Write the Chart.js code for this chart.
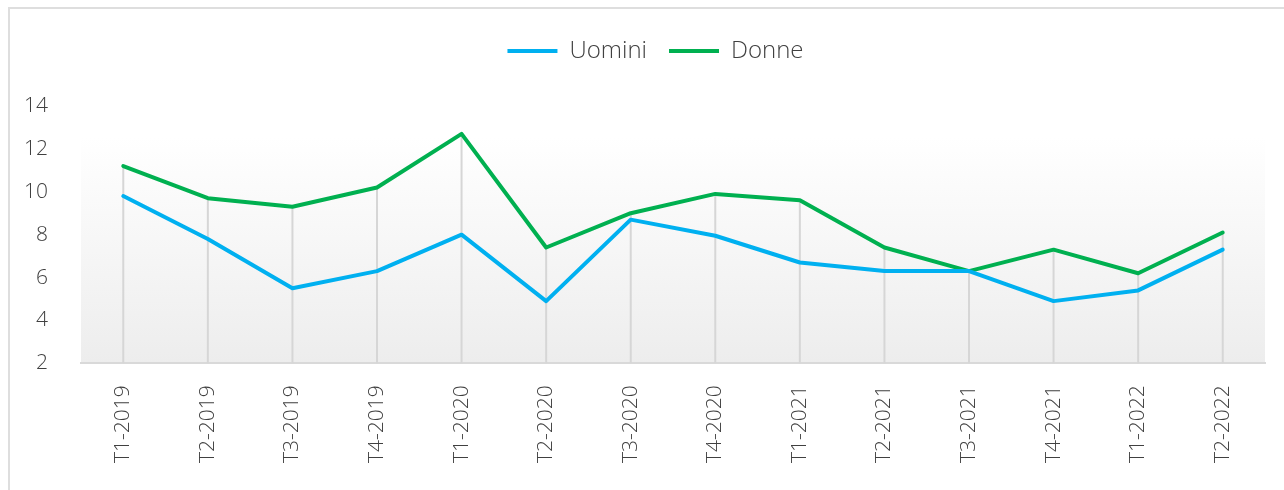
<!DOCTYPE html>
<html lang="it">
<head>
<meta charset="utf-8">
<title>Uomini e Donne</title>
<script src="https://cdn.jsdelivr.net/npm/chart.js@4/dist/chart.umd.min.js"></script>
<style>
  html, body { margin: 0; padding: 0; background: #ffffff; overflow: hidden; }
  #frame {
    position: absolute; left: 8px; top: 7px; width: 1400px; height: 600px;
    border-left: 2px solid #dedede; border-top: 2px solid #dedede;
  }
  #wrap { position: absolute; left: 0; top: 0; width: 1284px; height: 490px; }
</style>
</head>
<body>
<div id="frame"></div>
<div id="wrap"><canvas id="chart" width="1284" height="490"></canvas></div>
<script>
// Quarterly categories
const categories = [
  'T1-2019', 'T2-2019', 'T3-2019', 'T4-2019',
  'T1-2020', 'T2-2020', 'T3-2020', 'T4-2020',
  'T1-2021', 'T2-2021', 'T3-2021', 'T4-2021',
  'T1-2022', 'T2-2022'
];

// Series values (%)
const uomini = [9.8, 7.8, 5.5, 6.3, 8.0, 4.9, 8.7, 7.95, 6.7, 6.3, 6.3, 4.9, 5.4, 7.3];
const donne  = [11.2, 9.7, 9.3, 10.2, 12.7, 7.4, 9.0, 9.9, 9.6, 7.4, 6.3, 7.3, 6.2, 8.1];

// Value axis range
const yMin = 2;
const yMax = 14;
const yStep = 2;

const FONT = "'Open Sans', 'Noto Sans', sans-serif";
const TEXT = '#404040';

// Soft vertical gradient behind the plot area
const plotBackground = {
  id: 'plotBackground',
  beforeDraw(chart) {
    const { ctx, chartArea: a } = chart;
    const g = ctx.createLinearGradient(0, a.top, 0, a.bottom);
    g.addColorStop(0, '#ffffff');
    g.addColorStop(0.12, '#ffffff');
    g.addColorStop(1, '#ededed');
    ctx.save();
    ctx.fillStyle = g;
    ctx.fillRect(a.left, a.top, a.right - a.left, a.bottom - a.top);
    ctx.restore();
  }
};

// Drop lines from the highest point of each category down to the axis
const dropLines = {
  id: 'dropLines',
  beforeDatasetsDraw(chart) {
    const { ctx, chartArea: a, scales } = chart;
    ctx.save();
    ctx.strokeStyle = '#d6d6d6';
    ctx.lineWidth = 2;
    categories.forEach((c, i) => {
      const top = Math.max(...chart.data.datasets.map(d => d.data[i]));
      const x = scales.x.getPixelForValue(i);
      const y = scales.y.getPixelForValue(top);
      ctx.beginPath();
      ctx.moveTo(x, y);
      ctx.lineTo(x, a.bottom);
      ctx.stroke();
    });
    ctx.restore();
  }
};

// Nudge the legend a little to the right of the canvas centre
const legendShift = {
  id: 'legendShift',
  afterLayout(chart) {
    if (chart.legend) {
      chart.legend.left += 10;
      chart.legend.right += 10;
    }
  }
};

new Chart(document.getElementById('chart'), {
  type: 'line',
  data: {
    labels: categories,
    datasets: [
      {
        label: 'Uomini',
        data: uomini,
        borderColor: '#00b0f0',
        backgroundColor: '#00b0f0',
        borderWidth: 4,
        borderCapStyle: 'round',
        borderJoinStyle: 'round',
        pointRadius: 0,
        tension: 0
      },
      {
        label: 'Donne',
        data: donne,
        borderColor: '#00b050',
        backgroundColor: '#00b050',
        borderWidth: 4,
        borderCapStyle: 'round',
        borderJoinStyle: 'round',
        pointRadius: 0,
        tension: 0
      }
    ]
  },
  options: {
    responsive: false,
    animation: false,
    devicePixelRatio: 1,
    layout: { padding: { top: 17, left: 26, right: 19, bottom: 5 } },
    plugins: {
      tooltip: { enabled: false },
      legend: {
        position: 'top',
        weight: 3000,
        labels: {
          usePointStyle: true,
          pointStyle: 'line',
          pointStyleWidth: 50,
          padding: 22,
          color: TEXT,
          font: { family: FONT, size: 24, weight: '300' }
        }
      },
      title: {
        display: true,
        text: '',
        padding: { top: 0, bottom: 21 },
        font: { size: 10 }
      }
    },
    scales: {
      x: {
        offset: true,
        grid: { display: false, drawTicks: false },
        border: { display: true, color: '#d9d9d9', width: 2 },
        afterFit(scale) {
          scale.paddingLeft = 0;
          scale.paddingRight = 0;
        },
        ticks: {
          autoSkip: false,
          minRotation: 90,
          maxRotation: 90,
          padding: 22,
          color: TEXT,
          font: { family: FONT, size: 21, weight: '300' }
        }
      },
      y: {
        min: yMin,
        max: yMax,
        grid: { display: false, drawTicks: false },
        border: { display: false },
        afterFit(scale) {
          scale.width = 55;
        },
        ticks: {
          stepSize: yStep,
          padding: 33,
          color: TEXT,
          font: { family: FONT, size: 21, weight: '300' }
        }
      }
    }
  },
  plugins: [plotBackground, dropLines, legendShift]
});
</script>
</body>
</html>
